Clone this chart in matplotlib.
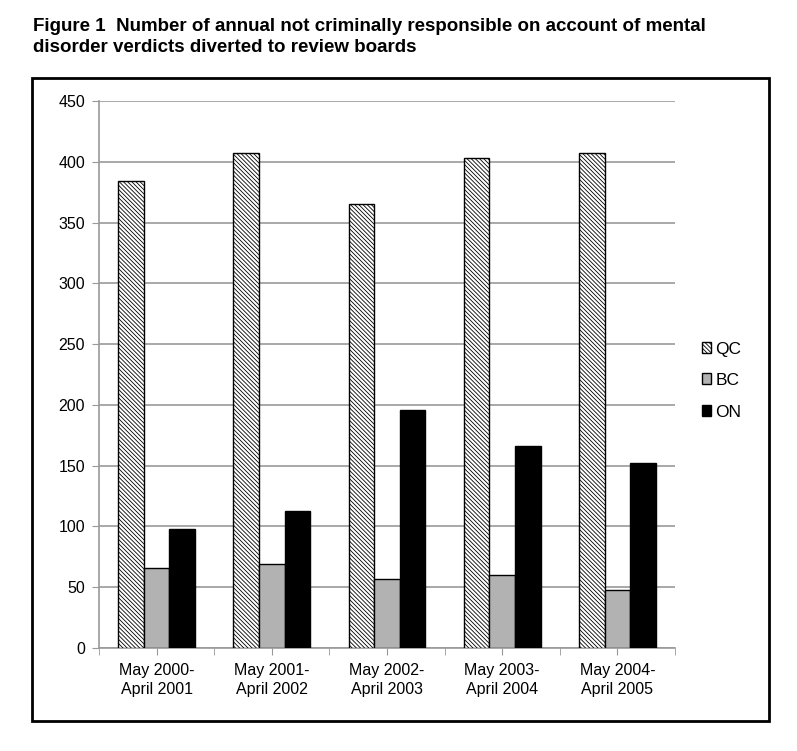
import matplotlib
matplotlib.use('Agg')
import matplotlib.pyplot as plt
import numpy as np
from matplotlib.patches import Rectangle

plt.rcParams['font.family'] = ['Liberation Sans', 'DejaVu Sans']
plt.rcParams['hatch.linewidth'] = 0.6

# data
periods = ['May 2000-\nApril 2001', 'May 2001-\nApril 2002', 'May 2002-\nApril 2003',
           'May 2003-\nApril 2004', 'May 2004-\nApril 2005']
qc = [384, 407, 365, 403, 407]
bc = [66, 69, 57, 60, 48]
on = [98, 113, 196, 166, 152]
yticks = [0, 50, 100, 150, 200, 250, 300, 350, 400, 450]

W, H = 797, 751
fig = plt.figure(figsize=(W / 100, H / 100), dpi=100)

# outer frame
fig.patches.append(Rectangle((32 / W, 1 - 721 / H), (769 - 32) / W, (721 - 78) / H,
                             transform=fig.transFigure, fill=False,
                             edgecolor='black', linewidth=2))

fig.text(33 / W, 1 - 18 / H,
         'Figure 1  Number of annual not criminally responsible on account of mental\n'
         'disorder verdicts diverted to review boards',
         fontsize=13.5, fontweight='bold', va='top', ha='left', linespacing=1.27)

ax = fig.add_axes([99 / W, 1 - 648 / H, (675 - 99) / W, (648 - 101) / H])

x = np.arange(len(periods))
w = 0.222
ax.bar(x - w, qc, w, color='white', edgecolor='black', hatch='\\' * 8,
       linewidth=1, label='QC', zorder=3)
ax.bar(x, bc, w, color='#b2b2b2', edgecolor='black', linewidth=1, label='BC', zorder=3)
ax.bar(x + w, on, w, color='black', edgecolor='black', linewidth=1, label='ON', zorder=3)

ax.set_xlim(-0.5, len(periods) - 0.5)
ax.set_ylim(0, 450)
ax.set_yticks(yticks)
ax.yaxis.grid(True, color='#999999', linewidth=1.2, zorder=0)

ax.set_xticks(x)
ax.set_xticklabels(periods, fontsize=11.5, linespacing=1.3)
ax.set_xticks(np.arange(-0.5, len(periods), 1), minor=True)
ax.tick_params(axis='x', which='both', length=5, color='#999999', direction='out', pad=6)
ax.tick_params(axis='y', length=5, color='#999999', labelsize=11.5, pad=5)

for s in ['top', 'right']:
    ax.spines[s].set_visible(False)
for s in ['left', 'bottom']:
    ax.spines[s].set_color('#999999')
    ax.spines[s].set_linewidth(1.2)

ax.legend(loc='center left', bbox_to_anchor=(1.02, 0.489), frameon=False,
          fontsize=12.5, handlelength=0.5, handleheight=0.6, handletextpad=0.25,
          labelspacing=0.95)

fig.savefig('out.png', dpi=100)
